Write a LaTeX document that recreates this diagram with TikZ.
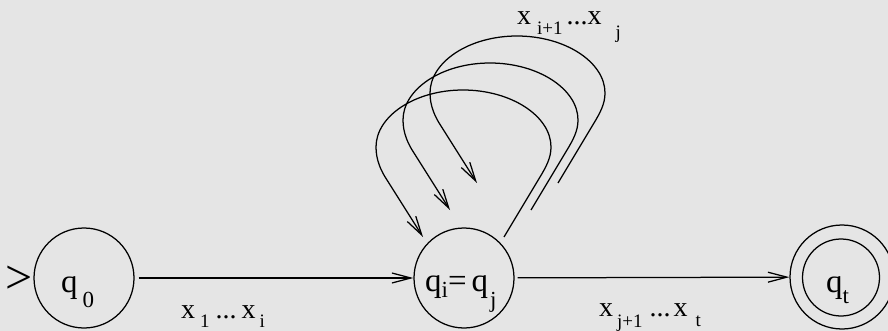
\documentclass[tikz,border=0pt]{standalone}
\usepackage{fontspec}
\setmainfont{Liberation Serif}
\usetikzlibrary{arrows.meta}
\definecolor{bg}{RGB}{229,229,229}
\newcommand\nodefnt{\fontsize{33}{33}\selectfont}
\newcommand\nodesubfnt{\fontsize{23}{23}\selectfont}
\newcommand\edgefnt{\fontsize{28}{28}\selectfont}
\newcommand\edgesubfnt{\fontsize{19}{19}\selectfont}
\newcommand\lowered[2]{\raisebox{-#1pt}{#2}}
\tikzset{
  statebox/.style={circle, draw, line width=1.25pt, minimum size=100pt, inner sep=0pt},
  lab/.style={inner sep=0pt, anchor=base west},
  arr/.style={line width=1.25pt, -{Straight Barb[length=19pt,width=10pt]}},
}
\begin{document}
\begin{tikzpicture}[x=1pt, y=-1pt]
\useasboundingbox (0,0) rectangle (888,331);
\fill[bg] (0,0) rectangle (888,331);

% states
\node[statebox] (q0) at (84,278) {};
\node[statebox] (qi) at (464,278) {};
\node[statebox, minimum size=104pt] (qt) at (842,277) {};
\node[statebox, minimum size=77pt] (qtin) at (841,277.5) {};

% start marker
\node[inner sep=0pt, font=\fontsize{48}{48}\selectfont] (startm) at (19.5,279.5) {>};

% state labels
\node[lab, font=\nodefnt] (lq0) at (61,292) {q\hspace{5pt}\lowered{15}{\nodesubfnt 0}};
\node[lab, font=\nodefnt] (lqi) at (425,291) {q\lowered{6}{\nodesubfnt i}=\hspace{5pt}q\hspace{2pt}\lowered{16}{\nodesubfnt j}};
\node[lab, font=\nodefnt] (lqt) at (826,292) {q\lowered{11}{\nodesubfnt t}};

% transitions
\draw[arr, shorten <=4pt] (q0) -- (qi);
\draw[arr, shorten <=3pt] (qi) -- (qt);

% loops
\foreach \k in {0,1,2}{
  \begin{scope}[shift={(27*\k,-27*\k)}]
    \coordinate (ls\k) at (504,237);
    \coordinate (lt\k) at (423,237);
    \draw[arr] (ls\k) -- (540,177)
      .. controls (546,167) and (551,158) .. (551,147)
      .. controls (551,116) and (511,90) .. (463,90)
      .. controls (415,90) and (376,116) .. (376,147)
      .. controls (376,160) and (381,171) .. (387,180)
      -- (lt\k);
  \end{scope}
}

% edge labels
\node[lab, font=\edgefnt] (l1) at (181,318) {x\hspace{5pt}\lowered{9}{\edgesubfnt 1}\hspace{6pt}...\hspace{5pt}x\hspace{4pt}\lowered{9}{\edgesubfnt i}};
\node[lab, font=\edgefnt] (l2) at (599,316) {x\hspace{4pt}\lowered{11}{\edgesubfnt j+1}\hspace{7pt}...\hspace{3pt}x\hspace{8pt}\lowered{10}{\edgesubfnt t}};
\node[lab, font=\edgefnt] (l3) at (517,25) {x\hspace{6pt}\lowered{10}{\edgesubfnt i+1}\hspace{4pt}...x\hspace{14pt}\lowered{14}{\edgesubfnt j}};
\end{tikzpicture}
\end{document}
